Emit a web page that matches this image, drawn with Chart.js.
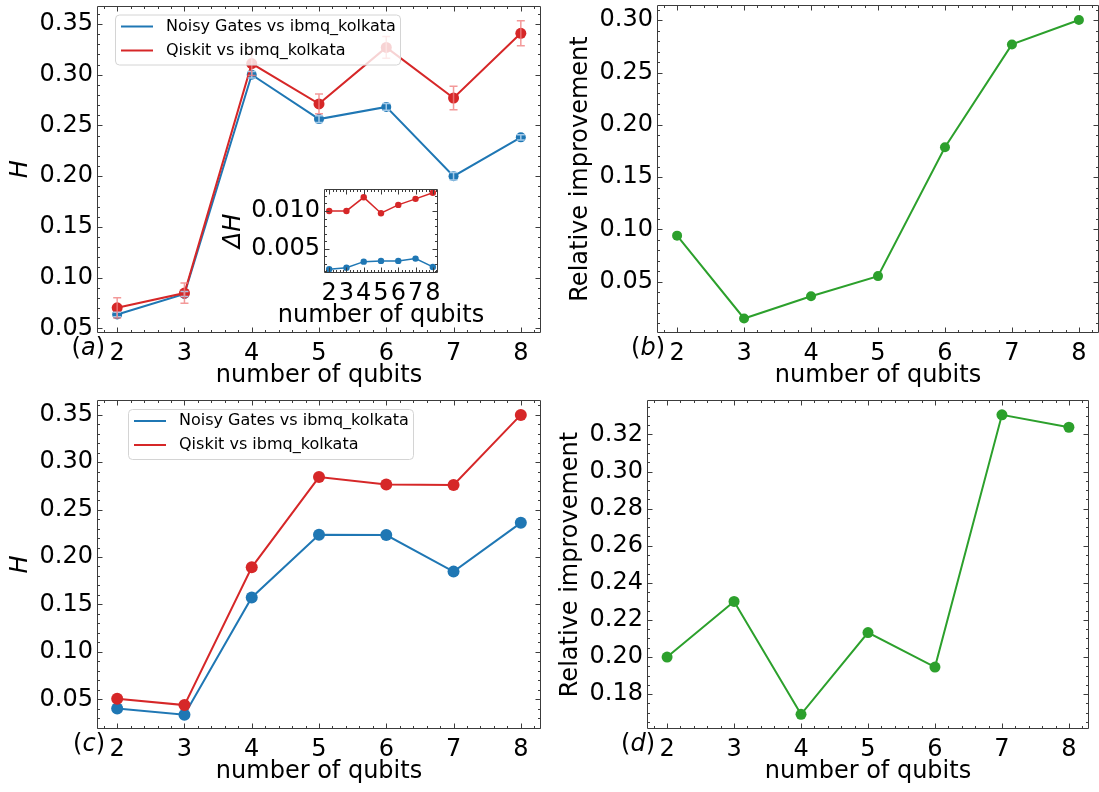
<!DOCTYPE html>
<html>
<head>
<meta charset="utf-8">
<script src="https://cdn.jsdelivr.net/npm/chart.js@4.4.0/dist/chart.umd.min.js"></script>
<style>
  body { margin: 0; background: #fff; }
  .wrap { position: relative; width: 1099px; height: 792px; overflow: hidden; }
  .wrap canvas { position: absolute; left: 0; top: 0; }
</style>
</head>
<body>
<div class="wrap">
  <canvas id="chartA" width="1120" height="792"></canvas>
  <canvas id="chartB" width="1120" height="792"></canvas>
  <canvas id="chartC" width="1120" height="792"></canvas>
  <canvas id="chartD" width="1120" height="792"></canvas>
  <canvas id="chartInset" width="1120" height="792"></canvas>
</div>
<script>
const qubits = [2, 3, 4, 5, 6, 7, 8];

// (a) H with error bars, inset = the error sizes
const hNoisyA  = [0.0636, 0.0838, 0.300, 0.2563, 0.2683, 0.200, 0.2383];
const hQiskitA = [0.0702, 0.0848, 0.311, 0.2713, 0.327, 0.2771, 0.3409];
const dHNoisy  = [0.0023, 0.0025, 0.0033, 0.0034, 0.0034, 0.0037, 0.0026];
const dHQiskit = [0.0100, 0.0100, 0.0118, 0.0097, 0.0108, 0.0116, 0.0124];

// (b) relative improvement
const improvB = [0.094, 0.0148, 0.036, 0.0553, 0.1786, 0.2769, 0.3003];

// (c) H
const hNoisyC  = [0.0405, 0.0339, 0.1574, 0.2234, 0.2231, 0.1846, 0.236];
const hQiskitC = [0.0507, 0.0440, 0.1891, 0.2842, 0.2765, 0.2758, 0.3497];

// (d) relative improvement
const improvD = [0.200, 0.2300, 0.1691, 0.2132, 0.1946, 0.3306, 0.3239];

// tick labels
const ticksH     = [0.05, 0.10, 0.15, 0.20, 0.25, 0.30, 0.35];
const ticksB     = [0.05, 0.10, 0.15, 0.20, 0.25, 0.30];
const ticksD     = [0.18, 0.20, 0.22, 0.24, 0.26, 0.28, 0.30, 0.32];
const ticksInset = [0.005, 0.010];

const NOISY_LABEL = 'Noisy Gates vs ibmq_kolkata';
const QISKIT_LABEL = 'Qiskit vs ibmq_kolkata';
const X_TITLE = 'number of qubits';

const BLUE = '#1f77b4', RED = '#d62728', GREEN = '#2ca02c';
const W = 1120, H = 792;   // canvases are a bit wider than the page, the overflow is hidden
const FONT = "'DejaVu Sans', sans-serif";

Chart.defaults.font.family = FONT;
Chart.defaults.font.size = 24;
Chart.defaults.color = '#000';
Chart.defaults.animation = false;
Chart.defaults.plugins.legend.display = false;
Chart.defaults.plugins.tooltip.enabled = false;

const xy = arr => qubits.map((q, i) => ({x: q, y: arr[i]}));

// spines + inward ticks on all four sides
const frame = {
  id: 'frame',
  beforeDraw(chart, args, o) {
    if (!o.fill) return;
    const a = chart.chartArea;
    chart.ctx.save();
    chart.ctx.fillStyle = '#fff';
    chart.ctx.fillRect(a.left, a.top, a.right - a.left, a.bottom - a.top);
    chart.ctx.restore();
  },
  afterDraw(chart, args, o) {
    const {ctx, chartArea: a} = chart;
    const sx = chart.scales.x, sy = chart.scales.y;
    const L = Math.round(a.left) + 0.5, R = Math.round(a.right) - 0.5;
    const T = Math.round(a.top) + 0.5, B = Math.round(a.bottom) - 0.5;
    ctx.save();
    ctx.strokeStyle = '#3c3c3c';
    ctx.lineWidth = 1;
    ctx.beginPath();
    const mark = (scale, v, len) => {
      const p = Math.round(scale.getPixelForValue(v)) + 0.5;
      if (scale.isHorizontal()) {
        ctx.moveTo(p, B); ctx.lineTo(p, B - len);
        ctx.moveTo(p, T); ctx.lineTo(p, T + len);
      } else {
        ctx.moveTo(L, p); ctx.lineTo(L + len, p);
        ctx.moveTo(R, p); ctx.lineTo(R - len, p);
      }
    };
    [[sx, o.xMinor], [sy, o.yMinor]].forEach(([s, step]) => {
      for (let k = Math.ceil(s.min / step - 1e-6); k * step <= s.max + 1e-9; k++) mark(s, k * step, 2.5);
      s.ticks.forEach(t => mark(s, t.value, 5));
    });
    ctx.stroke();
    ctx.beginPath();
    ctx.rect(L, T, R - L, B - T);
    ctx.stroke();
    // x title drawn by hand when the axes are too narrow for the library's title
    if (o.xTitle) {
      ctx.font = '24px ' + FONT;
      ctx.fillStyle = '#000';
      ctx.textAlign = 'center';
      ctx.textBaseline = 'middle';
      ctx.fillText(o.xTitle, (a.left + a.right) / 2, a.bottom + 43);
    }
    ctx.restore();
  }
};

// vertical error bars with caps
const errorBars = {
  id: 'errorBars',
  afterDatasetsDraw(chart) {
    const {ctx} = chart;
    const sy = chart.scales.y;
    chart.data.datasets.forEach((ds, i) => {
      if (!ds.errors) return;
      const meta = chart.getDatasetMeta(i);
      ctx.save();
      ctx.strokeStyle = ds.errorColor;
      ctx.lineWidth = 1.5;
      meta.data.forEach((pt, j) => {
        const v = ds.data[j].y, e = ds.errors[j];
        const y0 = sy.getPixelForValue(v - e), y1 = sy.getPixelForValue(v + e);
        ctx.beginPath();
        ctx.moveTo(pt.x, y0); ctx.lineTo(pt.x, y1);
        ctx.moveTo(pt.x - 4, y0); ctx.lineTo(pt.x + 4, y0);
        ctx.moveTo(pt.x - 4, y1); ctx.lineTo(pt.x + 4, y1);
        ctx.stroke();
      });
      ctx.restore();
    });
  }
};

// legend box inside the axes, like matplotlib's
const boxLegend = {
  id: 'boxLegend',
  afterDraw(chart, args, o) {
    if (!o.show) return;
    const {ctx, chartArea: a} = chart;
    const x = a.left + o.dx, y = a.top + o.dy;
    ctx.save();
    ctx.fillStyle = 'rgba(255,255,255,0.8)';
    ctx.strokeStyle = '#d4d4d4';
    ctx.lineWidth = 1;
    ctx.beginPath();
    ctx.roundRect(x + 0.5, y + 0.5, o.w, 50, 4);
    ctx.fill();
    ctx.stroke();
    ctx.font = '16px ' + FONT;
    ctx.textBaseline = 'middle';
    ctx.fillStyle = '#000';
    chart.data.datasets.forEach((ds, i) => {
      const ly = y + 12 + i * 24;
      ctx.strokeStyle = ds.borderColor;
      ctx.lineWidth = 2;
      ctx.beginPath();
      ctx.moveTo(x + 6, ly); ctx.lineTo(x + 38, ly);
      ctx.stroke();
      ctx.fillText(ds.label, x + 51, ly);
    });
    ctx.restore();
  }
};

// "(a)" style panel tag beside the first x tick label
const panelTag = {
  id: 'panelTag',
  afterDraw(chart, args, o) {
    if (!o.letter) return;
    const {ctx, chartArea: a} = chart;
    const y = a.bottom + 16;
    ctx.save();
    ctx.textBaseline = 'middle';
    ctx.fillStyle = '#000';
    const up = '24px ' + FONT, it = 'italic 24px ' + FONT;
    ctx.font = up; const wp = ctx.measureText(')').width;
    ctx.font = it; const wl = ctx.measureText(o.letter).width;
    let x = a.left + 8;
    ctx.font = up; ctx.textAlign = 'right'; ctx.fillText(')', x, y);
    x -= wp;
    ctx.font = it; ctx.fillText(o.letter, x, y);
    x -= wl;
    ctx.font = up; ctx.fillText('(', x, y);
    ctx.restore();
  }
};

Chart.register(frame, errorBars, boxLegend, panelTag);

function panelOptions(area, o) {
  const yW = o.yW || 97, xH = 60;
  return {
    responsive: false,
    layout: {padding: {left: area.l - yW, top: area.t, right: W - area.r, bottom: H - area.b - xH}},
    scales: {
      x: {
        type: 'linear', min: 1.7, max: 8.3,
        afterBuildTicks: s => { s.ticks = qubits.map(v => ({value: v})); },
        afterFit: s => { s.height = xH; s.paddingLeft = 0; s.paddingRight = 0; },
        grid: {display: false, drawTicks: false},
        border: {display: false},
        ticks: {padding: 6, autoSkip: false, maxRotation: 0, callback: v => String(v)},
        title: {display: !o.freeXTitle, text: X_TITLE, padding: {top: 0, bottom: 2.6}}
      },
      y: {
        type: 'linear', min: o.yMin, max: o.yMax,
        afterBuildTicks: s => { s.ticks = o.yTicks.map(v => ({value: v})); },
        afterFit: s => { s.width = yW; s.paddingTop = 0; s.paddingBottom = 0; },
        grid: {display: false, drawTicks: false},
        border: {display: false},
        ticks: {padding: 4, callback: v => v.toFixed(o.digits)},
        title: {display: true, text: o.yTitle, padding: {top: o.titlePad || 6.6, bottom: 0},
                font: {style: o.italic ? 'italic' : 'normal'}}
      }
    },
    plugins: {
      frame: {xMinor: 0.2, yMinor: o.yMinor, fill: !!o.fill, xTitle: o.freeXTitle ? X_TITLE : null},
      boxLegend: o.legend || {show: false},
      panelTag: {letter: o.letter}
    }
  };
}

const lineStyle = (color, r, w) => ({
  borderColor: color, backgroundColor: color, borderWidth: w,
  pointRadius: r, pointBorderWidth: 0, pointBackgroundColor: color, tension: 0
});

// (a)
new Chart(document.getElementById('chartA'), {
  type: 'line',
  data: {datasets: [
    {label: NOISY_LABEL, data: xy(hNoisyA), errors: dHNoisy, errorColor: 'rgba(170,205,235,0.95)', order: 2, ...lineStyle(BLUE, 5, 2)},
    {label: QISKIT_LABEL, data: xy(hQiskitA), errors: dHQiskit, errorColor: 'rgba(240,128,128,0.8)', order: 1, ...lineStyle(RED, 5.5, 2)}
  ]},
  options: panelOptions({l: 97, t: 4, r: 541, b: 333},
    {yMin: 0.0454, yMax: 0.3683, yTicks: ticksH, digits: 2, yTitle: 'H', italic: true, yMinor: 0.01,
     letter: 'a', legend: {show: true, dx: 18, dy: 9, w: 285}})
});

// (b)
new Chart(document.getElementById('chartB'), {
  type: 'line',
  data: {datasets: [{label: 'Relative improvement', data: xy(improvB), ...lineStyle(GREEN, 5, 2)}]},
  options: panelOptions({l: 657, t: 4, r: 1099, b: 333},
    {yMin: 0.0009, yMax: 0.3146, yTicks: ticksB, digits: 2, yTitle: 'Relative improvement', yMinor: 0.01, letter: 'b'})
});

// (c)
new Chart(document.getElementById('chartC'), {
  type: 'line',
  data: {datasets: [
    {label: NOISY_LABEL, data: xy(hNoisyC), order: 2, ...lineStyle(BLUE, 6, 2)},
    {label: QISKIT_LABEL, data: xy(hQiskitC), order: 1, ...lineStyle(RED, 6, 2)}
  ]},
  options: panelOptions({l: 97, t: 400, r: 541, b: 729},
    {yMin: 0.0188, yMax: 0.3654, yTicks: ticksH, digits: 2, yTitle: 'H', italic: true, yMinor: 0.01,
     letter: 'c', legend: {show: true, dx: 31, dy: 9, w: 285}})
});

// (d)
new Chart(document.getElementById('chartD'), {
  type: 'line',
  data: {datasets: [{label: 'Relative improvement', data: xy(improvD), ...lineStyle(GREEN, 5.5, 2)}]},
  options: panelOptions({l: 647, t: 400, r: 1089, b: 729},
    {yMin: 0.1612, yMax: 0.3386, yTicks: ticksD, digits: 2, yTitle: 'Relative improvement', yMinor: 0.005, letter: 'd'})
});

// inset of (a): size of the error bars
new Chart(document.getElementById('chartInset'), {
  type: 'line',
  data: {datasets: [
    {label: NOISY_LABEL, data: xy(dHNoisy), order: 2, ...lineStyle(BLUE, 3.2, 1.5)},
    {label: QISKIT_LABEL, data: xy(dHQiskit), order: 1, ...lineStyle(RED, 3.2, 1.5)}
  ]},
  options: panelOptions({l: 324, t: 189, r: 438, b: 273},
    {yMin: 0.0018, yMax: 0.0129, yTicks: ticksInset, digits: 3, yTitle: 'ΔH', italic: true, yMinor: 0.001,
     yW: 110, titlePad: 5.6, fill: true, freeXTitle: true})
});
</script>
</body>
</html>
